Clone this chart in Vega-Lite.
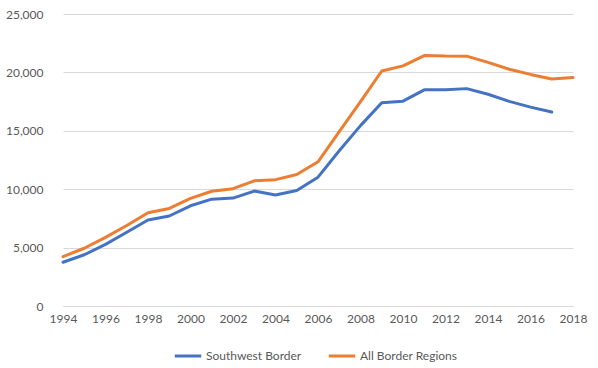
{
  "$schema": "https://vega.github.io/schema/vega-lite/v6.json",
  "autosize": "none",
  "width": 510,
  "height": 292,
  "padding": {"left": 63, "top": 14, "right": 25, "bottom": 62},
  "background": "white",
  "data": {
    "values": [
      {"year": 1994, "series": "Southwest Border", "agents": 3747},
      {"year": 1995, "series": "Southwest Border", "agents": 4388},
      {"year": 1996, "series": "Southwest Border", "agents": 5273},
      {"year": 1997, "series": "Southwest Border", "agents": 6315},
      {"year": 1998, "series": "Southwest Border", "agents": 7357},
      {"year": 1999, "series": "Southwest Border", "agents": 7706},
      {"year": 2000, "series": "Southwest Border", "agents": 8580},
      {"year": 2001, "series": "Southwest Border", "agents": 9147},
      {"year": 2002, "series": "Southwest Border", "agents": 9239},
      {"year": 2003, "series": "Southwest Border", "agents": 9840},
      {"year": 2004, "series": "Southwest Border", "agents": 9506},
      {"year": 2005, "series": "Southwest Border", "agents": 9891},
      {"year": 2006, "series": "Southwest Border", "agents": 11032},
      {"year": 2007, "series": "Southwest Border", "agents": 13297},
      {"year": 2008, "series": "Southwest Border", "agents": 15442},
      {"year": 2009, "series": "Southwest Border", "agents": 17408},
      {"year": 2010, "series": "Southwest Border", "agents": 17535},
      {"year": 2011, "series": "Southwest Border", "agents": 18506},
      {"year": 2012, "series": "Southwest Border", "agents": 18516},
      {"year": 2013, "series": "Southwest Border", "agents": 18611},
      {"year": 2014, "series": "Southwest Border", "agents": 18127},
      {"year": 2015, "series": "Southwest Border", "agents": 17522},
      {"year": 2016, "series": "Southwest Border", "agents": 17026},
      {"year": 2017, "series": "Southwest Border", "agents": 16605},
      {"year": 1994, "series": "All Border Regions", "agents": 4226},
      {"year": 1995, "series": "All Border Regions", "agents": 4945},
      {"year": 1996, "series": "All Border Regions", "agents": 5878},
      {"year": 1997, "series": "All Border Regions", "agents": 6895},
      {"year": 1998, "series": "All Border Regions", "agents": 7982},
      {"year": 1999, "series": "All Border Regions", "agents": 8351},
      {"year": 2000, "series": "All Border Regions", "agents": 9212},
      {"year": 2001, "series": "All Border Regions", "agents": 9821},
      {"year": 2002, "series": "All Border Regions", "agents": 10045},
      {"year": 2003, "series": "All Border Regions", "agents": 10717},
      {"year": 2004, "series": "All Border Regions", "agents": 10819},
      {"year": 2005, "series": "All Border Regions", "agents": 11264},
      {"year": 2006, "series": "All Border Regions", "agents": 12349},
      {"year": 2007, "series": "All Border Regions", "agents": 14923},
      {"year": 2008, "series": "All Border Regions", "agents": 17499},
      {"year": 2009, "series": "All Border Regions", "agents": 20119},
      {"year": 2010, "series": "All Border Regions", "agents": 20558},
      {"year": 2011, "series": "All Border Regions", "agents": 21444},
      {"year": 2012, "series": "All Border Regions", "agents": 21394},
      {"year": 2013, "series": "All Border Regions", "agents": 21391},
      {"year": 2014, "series": "All Border Regions", "agents": 20863},
      {"year": 2015, "series": "All Border Regions", "agents": 20273},
      {"year": 2016, "series": "All Border Regions", "agents": 19828},
      {"year": 2017, "series": "All Border Regions", "agents": 19437},
      {"year": 2018, "series": "All Border Regions", "agents": 19555}
    ]
  },
  "mark": {"type": "line", "strokeWidth": 3, "strokeCap": "round", "strokeJoin": "round"},
  "encoding": {
    "x": {
      "field": "year", "type": "quantitative",
      "scale": {"domain": [1994, 2018], "nice": false, "zero": false},
      "axis": {"title": null, "values": [1994,1996,1998,2000,2002,2004,2006,2008,2010,2012,2014,2016,2018], "format": "d", "grid": false, "ticks": false, "domain": true, "domainColor": "#d9d9d9", "labelPadding": 7, "labelFlush": false}
    },
    "y": {
      "field": "agents", "type": "quantitative",
      "scale": {"domain": [0, 25000], "nice": false},
      "axis": {"title": null, "values": [0,5000,10000,15000,20000,25000], "format": ",d", "grid": true, "gridColor": "#d9d9d9", "ticks": false, "domain": false, "labelPadding": 20}
    },
    "color": {
      "field": "series", "type": "nominal",
      "scale": {"domain": ["Southwest Border", "All Border Regions"], "range": ["#4472C4", "#ED7D31"]},
      "legend": {"title": null, "orient": "none", "legendX": 110, "legendY": 327, "direction": "horizontal", "symbolType": "stroke", "symbolStrokeWidth": 3, "symbolSize": 700, "labelOffset": 3, "columnPadding": 20}
    }
  },
  "config": {
    "view": {"stroke": null},
    "font": "Lato",
    "axis": {"labelFont": "Lato", "labelFontSize": 12, "labelColor": "#595959"},
    "legend": {"labelFont": "Lato", "labelFontSize": 12, "labelColor": "#595959"}
  }
}
